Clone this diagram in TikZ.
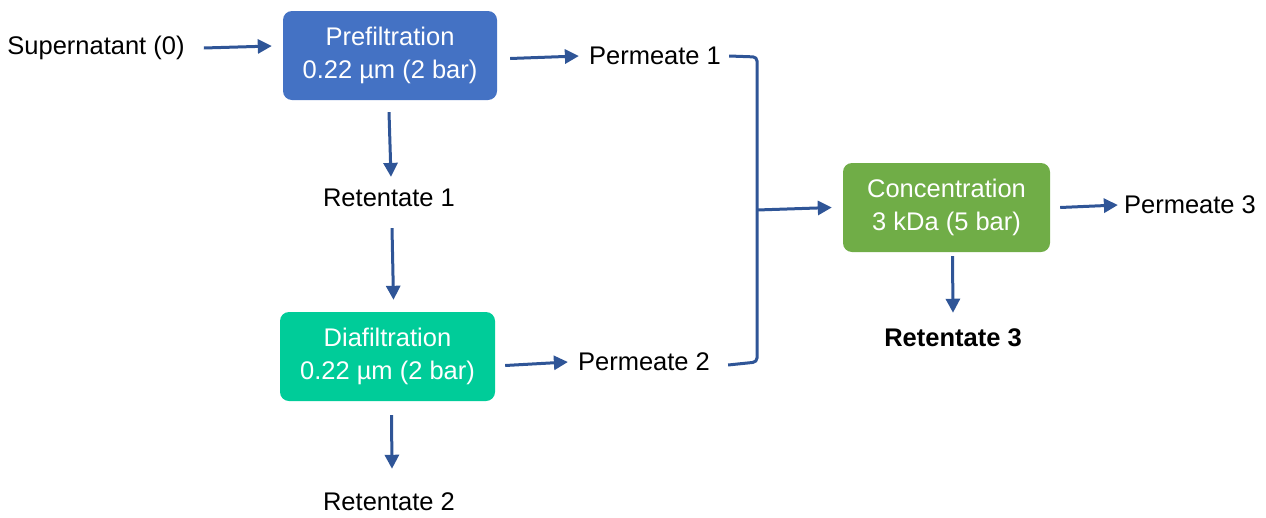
\documentclass[tikz,border=0pt]{standalone}
\usepackage{fontspec}
\setmainfont{Liberation Sans}
\usetikzlibrary{arrows.meta,calc}
\definecolor{pblue}{HTML}{4472C4}
\definecolor{pteal}{HTML}{00CC99}
\definecolor{pgreen}{HTML}{70AD47}
\definecolor{arrc}{HTML}{2F5597}
\tikzset{
  proc/.style={rounded corners=9pt, minimum width=214pt, minimum height=89pt, align=center, text=white, inner sep=0pt, font=\fontsize{25.5}{33}\selectfont},
  lbl/.style={inner sep=0pt, font=\fontsize{25.5}{30}\selectfont},
  arr/.style={draw=arrc, line width=3pt, -{Triangle[length=14pt,width=14pt]}},
  brk/.style={draw=arrc, line width=3pt, rounded corners=4pt}
}
\begin{document}
\begin{tikzpicture}[x=1pt,y=-1pt]
\useasboundingbox (0,0) rectangle (1266,517);
\node[proc, fill=pblue] (pre) at (390,55.5) {Prefiltration\\0.22 µm (2 bar)};
\node[proc, fill=pteal, minimum width=215pt] (dia) at (387.5,356.5) {Diafiltration\\0.22 µm (2 bar)};
\node[proc, fill=pgreen, minimum width=207pt] (con) at (946.5,207.5) {Concentration\\3 kDa (5 bar)};
\node[lbl] (sup) at (96,48) {Supernatant (0)};
\node[lbl] (p1) at (655,56) {Permeate 1};
\node[lbl] (r1) at (389,198) {Retentate 1};
\node[lbl] (p2) at (644,362) {Permeate 2};
\node[lbl] (r2) at (389,502) {Retentate 2};
\node[lbl] (p3) at (1190,205) {Permeate 3};
\node[lbl, font=\fontsize{25.5}{30}\selectfont\bfseries] (r3) at (953,338) {Retentate 3};
\coordinate (j) at (757,210);
\draw[arr] ($(sup.east)+(19,0)$) -- ($(pre.west |- sup.east)+(-11,-2)$);
\draw[arr] ($(pre.east)+(13,3)$) -- ($(p1.west)+(-10,0)$);
\draw[arr] ($(pre.south)+(-1,12)$) -- ($(r1.north)+(2,-12)$);
\draw[arr] ($(r1.south)+(3,21)$) -- ($(dia.north)+(6,-12)$);
\draw[arr] ($(dia.east)+(10,9)$) -- ($(p2.west)+(-10,0)$);
\draw[arr] ($(dia.south)+(4,14)$) -- ($(r2.north)+(3,-24)$);
\draw[arr] ($(con.east)+(10,0)$) -- ($(p3.west)+(-6,0)$);
\draw[arr] ($(con.south)+(6,4)$) -- ($(r3.north)+(0,-16)$);
\draw[brk] ($(p1.east)+(8,0)$) -- ($(p1.east -| j)+(0,1)$) -- ($(p2.east -| j)$) -- ($(p2.east)+(18,3)$);
\draw[arr] (j) -- ($(con.west)+(-11,0)$);
\end{tikzpicture}
\end{document}
